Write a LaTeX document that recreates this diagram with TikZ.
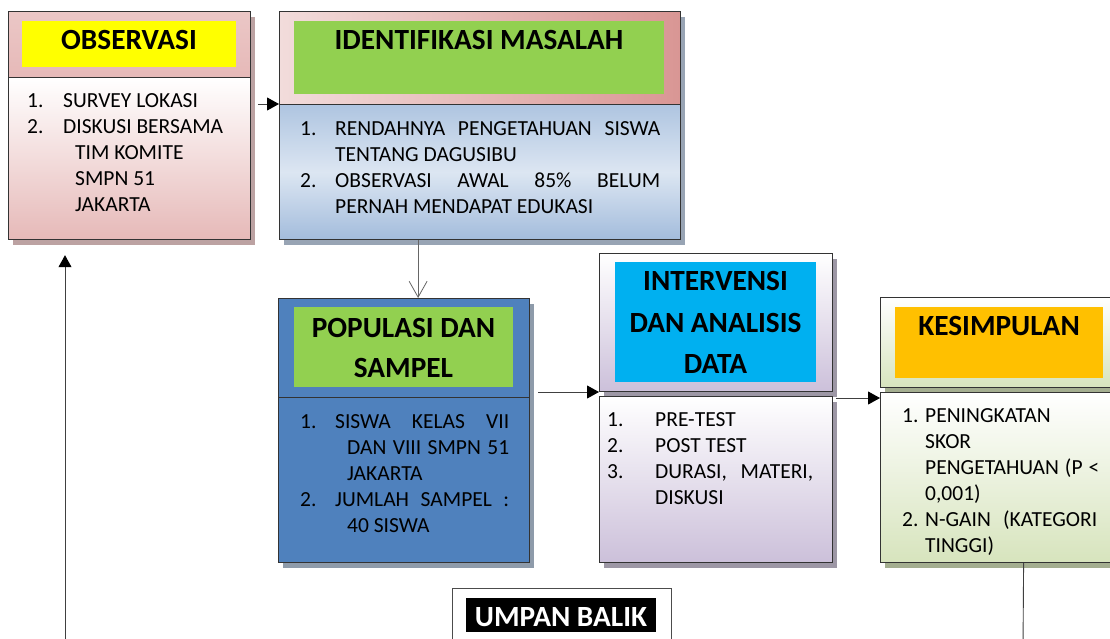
\documentclass[tikz,border=0pt]{standalone}
\usepackage{fontspec}
\setmainfont{Carlito}
\usetikzlibrary{arrows.meta,shadows}
\definecolor{obspink}{HTML}{E6B9B8}
\definecolor{obsshad}{HTML}{BCA2A2}
\definecolor{idpinkL}{HTML}{F2DCDB}
\definecolor{idpinkD}{HTML}{D99694}
\definecolor{idblueL}{HTML}{DCE6F2}
\definecolor{idblueD}{HTML}{A3BCDC}
\definecolor{idshad}{HTML}{98A4B4}
\definecolor{popblue}{HTML}{4F81BD}
\definecolor{popshad}{HTML}{8E9BAA}
\definecolor{lav}{HTML}{CCC0DA}
\definecolor{lavshad}{HTML}{9D97A5}
\definecolor{kgreen}{HTML}{D7E4BD}
\definecolor{kshad}{HTML}{A4AE90}
\definecolor{lgreen}{HTML}{92D050}
\definecolor{lyellow}{HTML}{FFFF00}
\definecolor{lcyan}{HTML}{00B0F0}
\definecolor{lorange}{HTML}{FFC000}
\newcommand\bodyf{\fontsize{21.5}{26}\selectfont}
\newcommand\titf{\fontsize{29.3}{41}\selectfont\bfseries}
\begin{document}
\begin{tikzpicture}[x=1pt,y=-1pt,
  box/.style={draw=black!80, line width=1.2pt, anchor=north west, inner sep=0pt},
  shad/.style={drop shadow={shadow xshift=4pt, shadow yshift=-5pt, fill=#1, opacity=1}},
  lbl/.style={anchor=north west, inner sep=0pt, draw=none},
  ttl/.style={anchor=base, inner sep=0pt, font=\titf},
  txt/.style={anchor=base west, inner sep=0pt, font=\bodyf, text=black},
  conn/.style={draw=black!75, line width=0.9pt},
  arr/.style={conn, -{Triangle[length=12pt,width=13pt,color=black]}},
  openarr/.style={draw=black!60, line width=0.8pt, -{Straight Barb[length=16pt,width=18pt]}}
]
\useasboundingbox (0,0) rectangle (1110,638);
\clip (0,0) rectangle (1110,638);

% OBSERVASI
\node[box, shad=obsshad, top color=obspink!80, bottom color=obspink, minimum width=242pt, minimum height=66pt] (obsH) at (8,11) {};
\node[box, shad=obsshad, top color=white, bottom color=obspink, minimum width=242pt, minimum height=162pt] (obsB) at (8,77) {};
\node[lbl, fill=lyellow, minimum width=214pt, minimum height=46pt] (obsL) at (22,21) {};
\node[ttl] (obsT) at (129,49) {OBSERVASI};
\node[txt] (o1n) at (27,107) {1.};
\node[txt] (o1t) at (63,107) {SURVEY LOKASI};
\node[txt] (o2n) at (27,133) {2.};
\node[txt] (o2t) at (63,133) {DISKUSI BERSAMA};
\node[txt] (o2b) at (75,159) {TIM KOMITE};
\node[txt] (o2c) at (75,185) {SMPN 51};
\node[txt] (o2d) at (75,211) {JAKARTA};

% IDENTIFIKASI MASALAH
\node[box, shad=idshad, left color=idpinkL, right color=idpinkD, minimum width=401pt, minimum height=93pt] (idH) at (279,11) {};
\node[box, shad=idshad, top color=idblueD!80!idblueL, bottom color=idblueD, middle color=idblueL, minimum width=401pt, minimum height=135pt] (idB) at (279,104) {};
\node[lbl, fill=lgreen, minimum width=370pt, minimum height=73pt] (idL) at (294,21) {};
\node[ttl] (idT) at (479,49) {IDENTIFIKASI MASALAH};
\node[txt] (i1n) at (300,135) {1.};
\node[txt] (i1t) at (335,135) {\makebox[325pt][s]{RENDAHNYA PENGETAHUAN SISWA}};
\node[txt] (i1b) at (335,161) {TENTANG DAGUSIBU};
\node[txt] (i2n) at (300,187) {2.};
\node[txt] (i2t) at (335,187) {\makebox[325pt][s]{OBSERVASI AWAL 85\% BELUM}};
\node[txt] (i2b) at (335,213) {PERNAH MENDAPAT EDUKASI};

% POPULASI DAN SAMPEL
\node[box, shad=popshad, fill=popblue, minimum width=251pt, minimum height=99pt] (popH) at (278,298) {};
\node[box, shad=popshad, fill=popblue, minimum width=251pt, minimum height=165pt] (popB) at (278,397) {};
\node[lbl, fill=lgreen, minimum width=219pt, minimum height=80pt] (popL) at (294,307) {};
\node[ttl] (popT1) at (403.5,337) {POPULASI DAN};
\node[ttl] (popT2) at (403.5,377) {SAMPEL};
\node[txt] (p1n) at (300,428) {1.};
\node[txt] (p1t) at (335,428) {\makebox[174pt][s]{SISWA KELAS VII}};
\node[txt] (p1b) at (347,454) {\makebox[162pt][s]{DAN VIII SMPN 51}};
\node[txt] (p1c) at (347,480) {JAKARTA};
\node[txt] (p2n) at (300,506) {2.};
\node[txt] (p2t) at (335,506) {\makebox[174pt][s]{JUMLAH SAMPEL :}};
\node[txt] (p2b) at (347,532) {40 SISWA};

% INTERVENSI DAN ANALISIS DATA
\node[box, shad=lavshad, top color=white, bottom color=lav, minimum width=233pt, minimum height=138pt] (intH) at (599,253) {};
\node[box, shad=lavshad, top color=white, bottom color=lav, minimum width=233pt, minimum height=166pt] (intB) at (599,396) {};
\node[lbl, fill=lcyan, minimum width=201pt, minimum height=120pt] (intL) at (615,262) {};
\node[ttl] (intT1) at (715.5,290) {INTERVENSI};
\node[ttl] (intT2) at (715.5,332) {DAN ANALISIS};
\node[ttl] (intT3) at (715.5,373) {DATA};
\node[txt] (n1n) at (607,426) {1.};
\node[txt] (n1t) at (655,426) {PRE-TEST};
\node[txt] (n2n) at (607,452) {2.};
\node[txt] (n2t) at (655,452) {POST TEST};
\node[txt] (n3n) at (607,478) {3.};
\node[txt] (n3t) at (655,478) {\makebox[158pt][s]{DURASI, MATERI,}};
\node[txt] (n3b) at (655,504) {DISKUSI};

% KESIMPULAN
\node[box, shad=kshad, top color=white, bottom color=kgreen, minimum width=240pt, minimum height=90pt] (kesH) at (880,297) {};
\node[box, shad=kshad, top color=white, bottom color=kgreen, minimum width=240pt, minimum height=170pt] (kesB) at (880,392) {};
\node[lbl, fill=lorange, minimum width=208pt, minimum height=71pt] (kesL) at (895,307) {};
\node[ttl] (kesT) at (999,335) {KESIMPULAN};
\node[txt] (k1n) at (902,422) {1.};
\node[txt] (k1t) at (925,422) {PENINGKATAN};
\node[txt] (k1b) at (925,448) {SKOR};
\node[txt] (k1c) at (925,474) {\makebox[174pt][s]{PENGETAHUAN (P <}};
\node[txt] (k1d) at (925,500) {0,001)};
\node[txt] (k2n) at (902,526) {2.};
\node[txt] (k2t) at (925,526) {\makebox[172pt][s]{N-GAIN (KATEGORI}};
\node[txt] (k2b) at (925,552) {TINGGI)};

% UMPAN BALIK
\node[box, draw=black!70, line width=0.8pt, fill=white, minimum width=219pt, minimum height=60pt] (umpB) at (452,588) {};
\node[lbl, fill=black, minimum width=190pt, minimum height=34pt] (umpL) at (466,598) {};
\node[ttl, text=white] (umpT) at (561,626) {UMPAN BALIK};

% connectors
\draw[arr] ([xshift=7pt]obsB.east |- idB.north west) -- (idB.north west);
\coordinate (q) at ([xshift=-62pt]idB.south);
\draw[openarr] (q) -- (q |- popH.north);
\coordinate (r) at ([shift={(8pt,5pt)}]popB.north east);
\draw[arr] (r) -- (r -| intH.west);
\coordinate (s) at ([shift={(3pt,-2pt)}]intB.north east);
\draw[arr] (s) -- (s -| kesB.west);
\coordinate (kd) at ([xshift=23pt]kesB.south);
\coordinate (kdEnd) at (1023,648);
\draw[conn] (kd) -- (kdEnd);
\coordinate (fb) at (65,648);
\draw[arr, shorten >=15pt] (fb) -- (fb |- obsB.south);
\end{tikzpicture}
\end{document}
